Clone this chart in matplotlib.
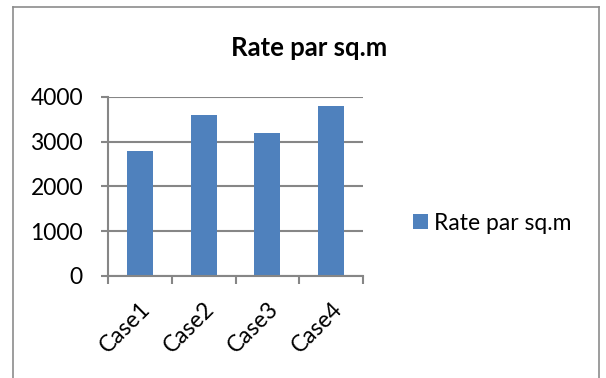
import matplotlib
matplotlib.use('Agg')
import matplotlib.pyplot as plt
from matplotlib.lines import Line2D
import numpy as np

categories = ['Case1', 'Case2', 'Case3', 'Case4']
rates = [2800, 3600, 3200, 3800]
series_name = 'Rate par sq.m'
y_ticks = [0, 1000, 2000, 3000, 4000]

plt.rcParams['font.family'] = ['Lato', 'DejaVu Sans']

W, H = 606, 378
fig = plt.figure(figsize=(W / 100, H / 100), dpi=100)

# axes box in pixels: left 108, right 363, top 97, bottom 276
ax = fig.add_axes([108 / W, 1 - 276 / H, (363 - 108) / W, (276 - 97) / H])

x = np.arange(len(categories))
bars = ax.bar(x, rates, width=0.41, color='#4f81bd', label=series_name, zorder=3)

ax.set_xlim(-0.5, len(categories) - 0.5)
ax.set_ylim(0, 4000)
ax.set_yticks(y_ticks)
ax.set_yticklabels([str(v) for v in y_ticks], fontsize=16.5)

grid_col = '#868686'
ax.yaxis.grid(True, color=grid_col, linewidth=1.5, zorder=0)
for side in ['top', 'right']:
    ax.spines[side].set_visible(False)
for side in ['left', 'bottom']:
    ax.spines[side].set_color(grid_col)
    ax.spines[side].set_linewidth(1.5)
    ax.spines[side].set_zorder(4)

# category boundaries as major ticks, labels on minor ticks
ax.set_xticks(np.arange(-0.5, len(categories)))
ax.set_xticklabels([])
ax.set_xticks(x, minor=True)
ax.set_xticklabels(categories, minor=True, rotation=45, ha='right',
                   rotation_mode='anchor', fontsize=16.5)
ax.tick_params(axis='x', which='major', length=6, width=1.5, color=grid_col)
ax.tick_params(axis='x', which='minor', length=0, pad=16)
ax.tick_params(axis='y', length=5, width=1.5, color=grid_col, pad=13)

fig.text(309 / W, 1 - 48 / H, 'Rate par sq.m', ha='center', va='center',
         fontsize=18.5, fontweight='bold')

ax.legend(loc='center left', bbox_to_anchor=(392 / W, 1 - 223 / H),
          bbox_transform=fig.transFigure, frameon=False, fontsize=16.5,
          handlelength=0.65, handleheight=0.65, handletextpad=0.3)

# chart border (bottom edge is cut off)
bc = '#8c8c8c'
fig.add_artist(Line2D([13 / W, 13 / W], [0, 1 - 7 / H], color=bc, lw=1.2))
fig.add_artist(Line2D([13 / W, 599 / W], [1 - 7 / H, 1 - 7 / H], color=bc, lw=1.2))
fig.add_artist(Line2D([599 / W, 599 / W], [0, 1 - 7 / H], color=bc, lw=1.2))

fig.savefig('out.png', dpi=100)
